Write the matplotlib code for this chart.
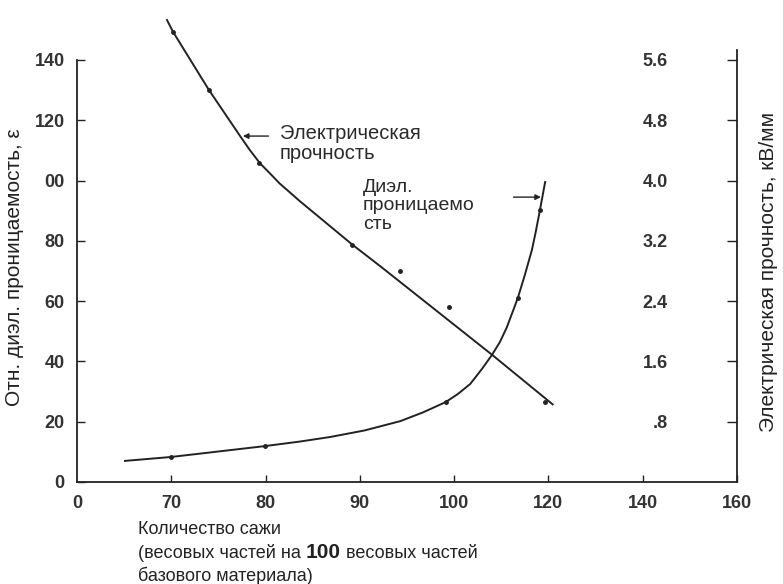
import numpy as np
import matplotlib.pyplot as plt

# подписи оси X стоят с неравным шагом (0, 70...100, 120...160)
x_ticks = [0, 70, 80, 90, 100, 120, 140, 160]
x_ticklabels = ['0', '70', '80', '90', '100', '120', '140', '160']

eps_ticks = [0, 20, 40, 60, 80, 100, 120, 140]
eps_ticklabels = ['0', '20', '40', '60', '80', '00', '120', '140']

kv_ticks = [0.8, 1.6, 2.4, 3.2, 4.0, 4.8, 5.6]
kv_ticklabels = ['.8', '1.6', '2.4', '3.2', '4.0', '4.8', '5.6']

# диэл. проницаемость (линия и точки)
eps_line_x = [35.6, 69.8, 79.9, 83.6, 86.8, 90.5, 94.3, 96.7, 99.1, 100.8, 103.4,
              105.9, 108.0, 109.7, 111.2, 113.5, 115.0, 116.5, 117.3, 118.2, 119.3]
eps_line_y = [7.0, 8.3, 11.9, 13.4, 14.9, 17.1, 20.2, 23.1, 26.5, 29.2, 32.5,
              37.5, 42.1, 46.4, 51.4, 61.0, 68.7, 77.0, 82.9, 90.2, 99.5]
eps_pts_x = [69.8, 79.9, 99.1, 113.5, 118.2]
eps_pts_y = [8.3, 11.9, 26.5, 61.0, 90.2]

# электрическая прочность, кВ/мм
kv_line_x = [66.8, 70.2, 74.0, 77.3, 78.3, 79.4, 80.5, 81.5, 82.6, 83.6, 89.2,
             92.4, 108.0, 120.9]
kv_line_y = [6.13, 5.97, 5.20, 4.59, 4.41, 4.23, 4.09, 3.96, 3.84, 3.73, 3.15,
             2.84, 1.69, 1.03]
kv_pts_x = [70.2, 74.0, 79.3, 89.2, 94.3, 99.5, 119.3]
kv_pts_y = [5.97, 5.20, 4.23, 3.15, 2.80, 2.32, 1.06]

ink = '#222222'
txt = '#2a2a2a'
sans = ['Liberation Sans', 'DejaVu Sans']

plt.rcParams['font.family'] = sans

pos = list(range(len(x_ticks)))


def fwd(x):
    return np.interp(x, x_ticks, pos)


def inv(p):
    return np.interp(p, pos, x_ticks)


fig = plt.figure(figsize=(7.83, 5.84), dpi=100)
ax = fig.add_axes([77 / 783, 102 / 584, 660 / 783, 432 / 584])
ax.set_xscale('function', functions=(fwd, inv))
ax.set_xlim(0, 160)
ax.set_ylim(0, 143.3)

ax.spines['top'].set_visible(False)
ax.spines['right'].set_visible(False)
ax.spines['left'].set_bounds(0, 140)
for s in ['left', 'bottom']:
    ax.spines[s].set_color(ink)
    ax.spines[s].set_linewidth(1.3)

ax.set_xticks(x_ticks)
ax.set_xticklabels(x_ticklabels)
ax.set_yticks(eps_ticks)
ax.set_yticklabels(eps_ticklabels)
ax.minorticks_off()
ax.tick_params(axis='x', direction='in', length=5, width=1, colors=ink, pad=9,
               labelsize=13)
ax.tick_params(axis='y', direction='in', length=6, width=1, colors=ink, pad=9,
               labelsize=13)
for lab in ax.get_xticklabels() + ax.get_yticklabels():
    lab.set_fontweight('bold')
    lab.set_color('#333333')
ax.get_xaxis().majorTicks[0].tick1line.set_visible(False)

# правая ось - кВ/мм (0..5.6 соответствует 0..140)
ax2 = ax.twinx()
ax2.set_ylim(0, 143.3 / 25)
for s in ['top', 'left', 'bottom']:
    ax2.spines[s].set_visible(False)
ax2.spines['right'].set_color(ink)
ax2.spines['right'].set_linewidth(1.3)
ax2.set_yticks(kv_ticks)
ax2.set_yticklabels(kv_ticklabels)
ax2.tick_params(axis='y', direction='in', length=7, width=1, colors=ink, pad=-50,
                labelsize=13)
for lab in ax2.get_yticklabels():
    lab.set_fontweight('bold')
    lab.set_color('#333333')
    lab.set_horizontalalignment('right')

# кривые
ax.plot(eps_line_x, eps_line_y, color=ink, lw=1.4, clip_on=False)
ax.plot(eps_pts_x, eps_pts_y, 'o', color=ink, ms=2.5, clip_on=False)
ax2.plot(kv_line_x, kv_line_y, color=ink, lw=1.4, clip_on=False)
ax2.plot(kv_pts_x, kv_pts_y, 'o', color=ink, ms=2.5, clip_on=False)

# подписи кривых со стрелками
ax2.annotate('', xy=(77.3, 4.59), xytext=(80.6, 4.59),
             arrowprops=dict(arrowstyle='-|>', color=ink, lw=1, mutation_scale=8))
ax2.text(81.5, 4.49, 'Электрическая\nпрочность', fontsize=14.5, color=txt,
         va='center', ha='left', linespacing=1.1)

ax.annotate('', xy=(119.0, 94.5), xytext=(112.0, 94.5),
            arrowprops=dict(arrowstyle='-|>', color=ink, lw=1, mutation_scale=8))
ax.text(90.3, 91.6, 'Диэл.\nпроницаемо\nсть', fontsize=14, color=txt,
        va='center', ha='left', linespacing=1.1)

# подписи осей
fig.text(15 / 783, 1 - 267 / 584, 'Отн. диэл. проницаемость, ε', rotation=90,
         ha='center', va='center', fontsize=15, color=ink)
fig.text(768 / 783, 1 - 272 / 584, 'Электрическая прочность, кВ/мм', rotation=90,
         ha='center', va='center', fontsize=15, color=ink)

# подпись оси X: три строки, "100" выделено жирным
fx = 138 / 783
fig.text(fx, 1 - 530 / 584, 'Количество сажи', fontsize=13,
         va='center', ha='left', color=ink)
fig.text(fx, 1 - 576 / 584, 'базового материала)', fontsize=13,
         va='center', ha='left', color=ink)

base_y = 1 - 558 / 584
renderer = fig.canvas.get_renderer()
cur_x = fx
for part, size, weight in [('(весовых частей на ', 13, 'normal'),
                           ('100', 15, 'bold'),
                           (' весовых частей', 13, 'normal')]:
    t = fig.text(cur_x, base_y, part, fontsize=size, fontweight=weight,
                 va='baseline', ha='left', color=ink)
    bb = t.get_window_extent(renderer=renderer)
    cur_x = bb.x1 / fig.bbox.width

fig.savefig('out.png', dpi=100)
